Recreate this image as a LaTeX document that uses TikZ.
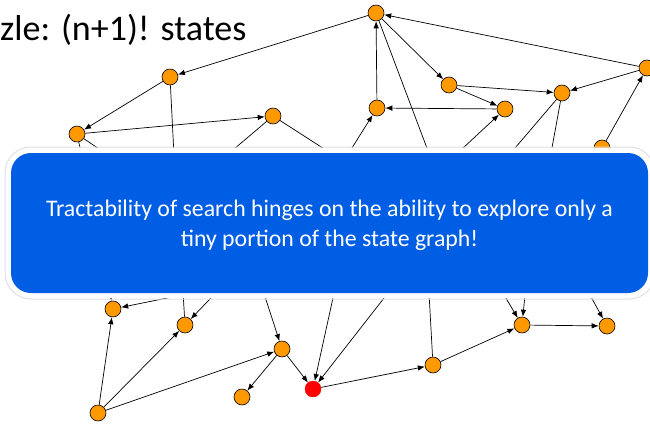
\documentclass[tikz,border=0pt]{standalone}
\usepackage{fontspec}
\setmainfont{Carlito}
\usetikzlibrary{arrows.meta}
\definecolor{statefill}{RGB}{255,153,0}
\definecolor{calloutblue}{RGB}{0,94,228}
\begin{document}
\begin{tikzpicture}[x=1pt,y=-1pt,
  state/.style={circle, draw=black, line width=0.6pt, fill=statefill, minimum size=16pt, inner sep=0pt},
  goal/.style={circle, draw=red, fill=red, minimum size=16pt, inner sep=0pt},
  edge/.style={line width=0.7pt, -{Latex[length=7pt,width=5.5pt]}},
  link/.style={line width=0.7pt},
  caption/.style={text=white, font=\fontsize{23.8}{30}\selectfont, anchor=base, inner sep=0pt},
]
\useasboundingbox (0,0) rectangle (650,423);

% title
\node[anchor=base west, inner sep=0pt, font=\fontsize{36}{40}\selectfont] (title) at (0,40) {zle: (n+1)! states};

% states above the callout
\node[state] (A) at (376,13) {};
\node[state] (B) at (170,77) {};
\node[state] (C) at (77,134) {};
\node[state] (D) at (273,116) {};
\node[state] (E) at (449,85) {};
\node[state] (F) at (377,108) {};
\node[state] (G) at (505,109) {};
\node[state] (H) at (562,93) {};
\node[state] (I) at (647,68) {};
\node[state] (J) at (602,148) {};

% states below the callout
\node[state] (K) at (113,309) {};
\node[state] (L) at (185,325) {};
\node[state] (M) at (282,349) {};
\node[state] (N) at (242,397) {};
\node[goal]  (O) at (313,389) {};
\node[state] (P) at (98,413) {};
\node[state] (Q) at (433,365) {};
\node[state] (R) at (522,325) {};
\node[state] (S) at (607,326) {};

% ends of connectors that run behind the callout
\coordinate (u1) at (86,175);
\coordinate (u2) at (130,170);
\coordinate (u3) at (175,175);
\coordinate (u4) at (201,177);
\coordinate (u5) at (357,170);
\coordinate (u6) at (335,175);
\coordinate (u7) at (439,180);
\coordinate (u8) at (434,175);
\coordinate (u9) at (492,175);
\coordinate (u10) at (547,175);
\coordinate (u11) at (620,190);

\coordinate (d1) at (106,270);
\coordinate (d2) at (256,280);
\coordinate (d3) at (182,275);
\coordinate (d4) at (233,275);
\coordinate (d5) at (258,275);
\coordinate (d6) at (338,275);
\coordinate (d7) at (402,275);
\coordinate (d8) at (428,275);
\coordinate (d9) at (492,275);
\coordinate (d10) at (527,275);
\coordinate (d11) at (579,275);

% connectors, upper part
\draw[edge] (I) -- (A);
\draw[edge] (A) -- (B);
\draw[edge] (B) -- (C);
\draw[edge] (C) -- (D);
\draw[edge] (A) -- (E);
\draw[edge] (F) -- (A);
\draw[edge] (E) -- (G);
\draw[edge] (E) -- (H);
\draw[edge] (G) -- (F);
\draw[edge] (I) -- (H);
\draw[edge] (J) -- (I);
\draw[link] (C) -- (u1);
\draw[link] (C) -- (u2);
\draw[link] (B) -- (u3);
\draw[link] (D) -- (u4);
\draw[link] (D) -- (u5);
\draw[edge] (u6) -- (F);
\draw[link] (A) -- (u7);
\draw[edge] (u8) -- (G);
\draw[link] (H) -- (u9);
\draw[link] (H) -- (u10);
\draw[link] (J) -- (u11);

% connectors, lower part
\draw[edge] (P) -- (K);
\draw[edge] (P) -- (L);
\draw[edge] (P) -- (M);
\draw[edge] (M) -- (N);
\draw[edge] (M) -- (O);
\draw[edge] (O) -- (Q);
\draw[edge] (Q) -- (R);
\draw[edge] (R) -- (S);
\draw[edge] (d1) -- (K);
\draw[edge] (d2) -- (K);
\draw[link] (L) -- (d3);
\draw[edge] (d4) -- (L);
\draw[edge] (d5) -- (M);
\draw[edge] (d6) -- (O);
\draw[edge] (d7) -- (O);
\draw[link] (Q) -- (d8);
\draw[edge] (d9) -- (R);
\draw[edge] (d10) -- (R);
\draw[edge] (d11) -- (S);

% callout with its white rim and faint shadow
\draw[black!12, line width=1pt, rounded corners=26pt] (5,147) rectangle (655,299);
\fill[white, rounded corners=25pt] (6,148) rectangle (654,298);
\fill[calloutblue, rounded corners=20pt] (11,153) rectangle (648,293);

\node[caption] (line1) at (329.5,216) {Tractability of search hinges on the ability to explore only a};
\node[caption] (line2) at (329.5,246) {tiny portion of the state graph!};
\end{tikzpicture}
\end{document}
